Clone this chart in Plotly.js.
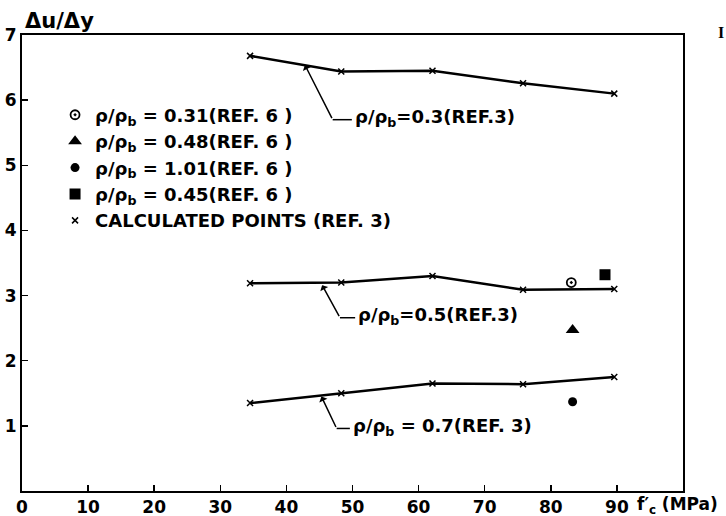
<!DOCTYPE html>
<html>
<head>
<meta charset="utf-8">
<script src="https://cdn.plot.ly/plotly-3.0.1.min.js"></script>
<style>html,body{margin:0;padding:0;background:#fff;}#chart{width:726px;height:516px;}</style>
</head>
<body>
<div id="chart"></div>
<script>
// ---- data ----
const fc = [34.5, 48.3, 62.1, 75.8, 89.6];           // f'c (MPa) of calculated points (REF. 3)
const calc03 = [6.68, 6.44, 6.45, 6.26, 6.10];       // rho/rho_b = 0.3
const calc05 = [3.19, 3.20, 3.30, 3.09, 3.10];       // rho/rho_b = 0.5
const calc07 = [1.35, 1.50, 1.65, 1.64, 1.75];       // rho/rho_b = 0.7

const ref6Names = ["ρ/ρ<sub>b</sub> = 0.31(REF. 6 )", "ρ/ρ<sub>b</sub> = 0.48(REF. 6 )",
                   "ρ/ρ<sub>b</sub> = 1.01(REF. 6 )", "ρ/ρ<sub>b</sub> = 0.45(REF. 6 )"];
const ref6X = [83.1, 83.3, 83.3, 88.2];
const ref6Y = [3.20, 2.47, 1.37, 3.32];
const ref6Symbols = ["circle-open-dot", "triangle-up", "circle", "square"];
const ref6Sizes = [9, 12, 9, 11];

const xTicks = [0, 10, 20, 30, 40, 50, 60, 70, 80, 90];
const yTicks = [1, 2, 3, 4, 5, 6, 7];

const curveLabels = ["ρ/ρ<sub>b</sub>=0.3(REF.3)", "ρ/ρ<sub>b</sub>=0.5(REF.3)", "ρ/ρ<sub>b</sub> = 0.7(REF. 3)"];
// ---- end data ----

const FONT = "'DejaVu Sans', sans-serif";
const TXT = {family: FONT, size: 18, color: "#000", weight: "bold"};
const traces = [];

[calc03, calc05, calc07].forEach(ys => {
  traces.push({x: fc, y: ys, mode: "lines", type: "scatter",
    line: {color: "#000", width: 2.5}, showlegend: false, hoverinfo: "skip"});
});

ref6X.forEach((xv, i) => {
  traces.push({x: [xv], y: [ref6Y[i]], mode: "markers", type: "scatter", name: ref6Names[i],
    marker: {symbol: ref6Symbols[i], size: ref6Sizes[i], color: "#000",
             line: {color: "#000", width: i === 0 ? 1.8 : 0}}});
});

traces.push({x: fc.concat(fc, fc), y: calc03.concat(calc05, calc07), mode: "markers", type: "scatter",
  name: "CALCULATED POINTS (REF. 3)",
  marker: {symbol: "x-thin", size: 6, color: "#000", line: {color: "#000", width: 1.5}}});

// leader lines: [tip x, tip y, bend x, bend y, end x, text x, text y]
const leaders = [
  [42.8, 6.54, 47.0, 5.70, 49.9, 50.0, 5.73],
  [45.4, 3.16, 48.1, 2.66, 50.4, 50.5, 2.69],
  [45.3, 1.45, 47.6, 0.96, 49.6, 49.7, 0.99]
];
const annotations = [];
const shapes = [];
leaders.forEach((L, i) => {
  annotations.push({x: L[0], y: L[1], ax: L[2], ay: L[3], axref: "x", ayref: "y", xref: "x", yref: "y",
    text: "", showarrow: true, arrowhead: 1, arrowsize: 1, arrowwidth: 1.5, arrowcolor: "#000"});
  shapes.push({type: "line", xref: "x", yref: "y", x0: L[2], y0: L[3], x1: L[4], y1: L[3],
    line: {color: "#000", width: 1.5}});
  annotations.push({x: L[5], y: L[6], xref: "x", yref: "y", text: curveLabels[i], showarrow: false,
    xanchor: "left", yanchor: "middle", font: TXT});
});
annotations.push({x: 0, y: 1, xref: "paper", yref: "paper", text: "Δu/Δy", showarrow: false,
  xanchor: "left", yanchor: "bottom", xshift: 1, yshift: 0, font: {family: FONT, size: 21, color: "#000", weight: "bold"}});
annotations.push({x: 0.927, y: 0, xref: "paper", yref: "paper", text: "f′<sub>c</sub> (MPa)", showarrow: false,
  xanchor: "left", yanchor: "top", yshift: -1, font: {family: FONT, size: 17, color: "#000", weight: "bold"}});
annotations.push({x: 1, y: 1, xref: "paper", yref: "paper", text: "I", showarrow: false,
  xanchor: "left", yanchor: "bottom", xshift: 33, yshift: -8, font: {family: "Liberation Serif", size: 16, color: "#000", weight: "bold"}});

const layout = {
  width: 726, height: 516,
  margin: {l: 22, r: 43, t: 35, b: 25},
  paper_bgcolor: "#fff", plot_bgcolor: "#fff",
  font: {family: FONT, size: 17, color: "#000"},
  showlegend: true,
  legend: {x: 0.05, y: 0.865, xanchor: "left", yanchor: "top", bgcolor: "rgba(0,0,0,0)",
           font: TXT, itemwidth: 30, tracegroupgap: 0},
  xaxis: {range: [0, 100], tickvals: xTicks, ticktext: xTicks.map(String), ticks: "inside", ticklen: 6,
          tickwidth: 1.5, tickcolor: "#000", showline: true, linecolor: "#000", linewidth: 2, mirror: true,
          showgrid: false, zeroline: false, tickfont: {family: FONT, size: 17, color: "#000", weight: "bold"}},
  yaxis: {range: [0, 7], tickvals: yTicks, ticktext: yTicks.map(String), ticks: "inside", ticklen: 6,
          tickwidth: 1.5, tickcolor: "#000", showline: true, linecolor: "#000", linewidth: 2, mirror: true,
          showgrid: false, zeroline: false, tickfont: {family: FONT, size: 17, color: "#000", weight: "bold"}},
  annotations: annotations,
  shapes: shapes
};

Plotly.newPlot("chart", traces, layout, {displayModeBar: false, staticPlot: true});
</script>
</body>
</html>
